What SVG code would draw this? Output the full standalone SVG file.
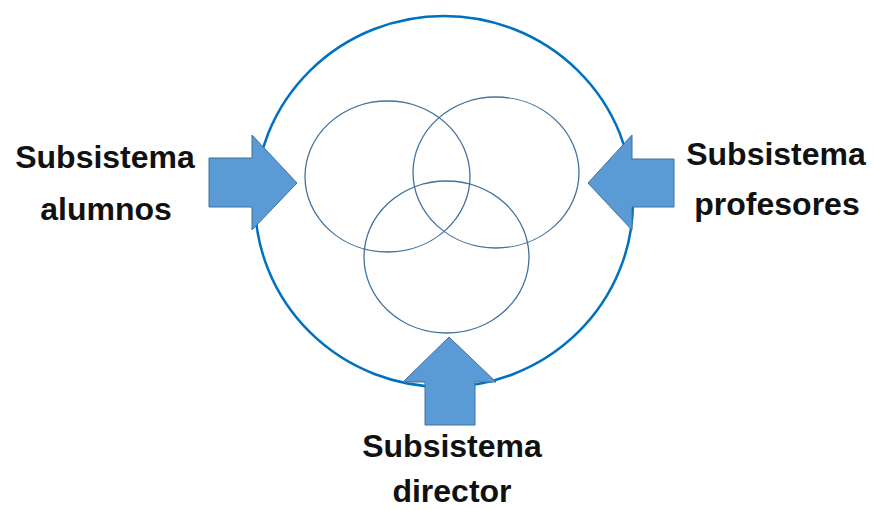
<svg xmlns="http://www.w3.org/2000/svg" width="873" height="510" viewBox="0 0 873 510">
<style>
.outer{fill:none;stroke:#0070C0;stroke-width:2.5}
.sub{fill:none;stroke:#41719C;stroke-width:1.3}
.arrow{fill:#5B9BD5;stroke:#41719C;stroke-width:1}
.lbl{font-family:"Liberation Sans",Arial,sans-serif;font-weight:bold;font-size:32px;fill:#111;text-anchor:middle}
</style>
<rect width="873" height="510" fill="#fff"/>
<g id="sistema">
<ellipse class="outer" cx="444" cy="201.5" rx="189" ry="185.5"/>
</g>
<g id="circulo-alumnos"><ellipse class="sub" cx="387.5" cy="176.5" rx="82.5" ry="75.5"/></g>
<g id="circulo-profesores"><ellipse class="sub" cx="496" cy="172.5" rx="83" ry="75.5"/></g>
<g id="circulo-director"><ellipse class="sub" cx="446.5" cy="257" rx="82.5" ry="76"/></g>
<g id="connectors">
<polygon class="arrow" points="209,158 252,158 252,135 297,183 252,230 252,207 209,207"/>
<polygon class="arrow" points="674,159 632,159 632,135 588,183 632,230 632,207 674,207"/>
<polygon class="arrow" points="425,425 425,382 403,382 449,337 496,382 475,382 475,425"/>
</g>
<g id="alumnos">
<text class="lbl" x="105" y="168">Subsistema</text>
<text class="lbl" x="106" y="220">alumnos</text>
</g>
<g id="profesores">
<text class="lbl" x="776" y="165">Subsistema</text>
<text class="lbl" x="777" y="215">profesores</text>
</g>
<g id="director">
<text class="lbl" x="452" y="457">Subsistema</text>
<text class="lbl" x="452" y="502">director</text>
</g>
</svg>
